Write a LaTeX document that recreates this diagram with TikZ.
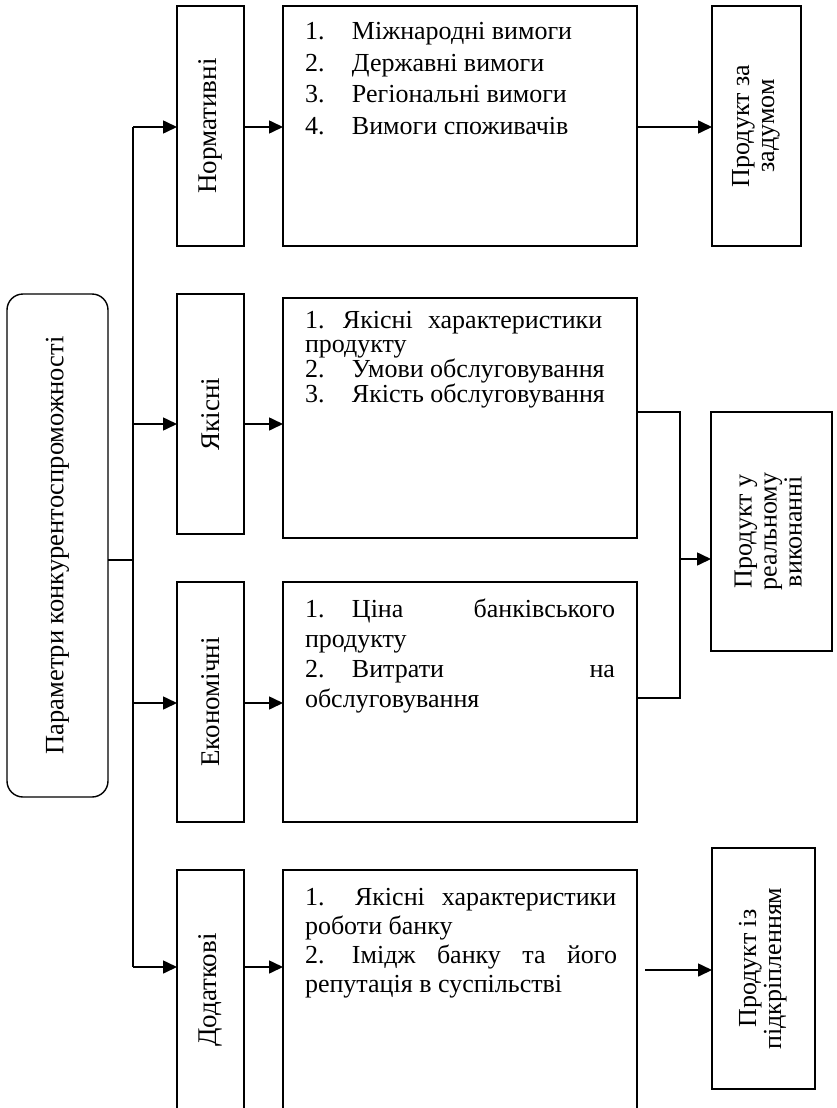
\documentclass[tikz,border=0pt]{standalone}
\usepackage{fontspec}
\setmainfont{Liberation Serif}
\usepackage{graphicx}
\usetikzlibrary{arrows.meta}
\newcommand\numtab[2][47pt]{\makebox[#1][l]{#2}}
\begin{document}
\begin{tikzpicture}[x=1pt,y=-1pt,
  every node/.style={inner sep=0pt, outer sep=0pt},
  frame/.style={draw, line width=1.6pt, rectangle},
  catbox/.style={frame, minimum width=67pt, minimum height=240pt, font=\fontsize{27}{27}\selectfont},
  listbox/.style={frame, minimum width=354pt, minimum height=240pt},
  prodbox/.style={frame, minimum height=240pt, font=\fontsize{26}{25}\selectfont},
  listtext/.style={anchor=base west},
  conn/.style={line width=1.6pt},
  arr/.style={conn, -{Triangle[length=14pt,width=13pt]}}
]
\clip (0,0) rectangle (837,1108);
% main rounded box
\node[draw, line width=1.4pt, rounded corners=16pt, minimum width=101pt, minimum height=503pt,
      font=\fontsize{26.5}{27}\selectfont] (R) at (57.5,545.5) {\rotatebox{90}{Параметри конкурентоспроможності}};
% category boxes
\node[catbox] (N1) at (210.5,126) {\rotatebox{90}{Нормативні}};
\node[catbox] (N2) at (210.5,414) {\rotatebox{90}{Якісні}};
\node[catbox] (N3) at (210.5,702) {\rotatebox{90}{Економічні}};
\node[catbox] (N4) at (210.5,990) {\rotatebox{90}{Додаткові}};
% list boxes
\node[listbox] (T1) at (460,126) {};
\node[listbox] (T2) at (460,418) {};
\node[listbox] (T3) at (460,702) {};
\node[listbox] (T4) at (460,990) {};
\node[listtext] (T1t) at ([shift={(22,34)}]T1.north west) {\parbox[t]{310pt}{\fontsize{26}{31.5}\selectfont
  \numtab{1.}Міжнародні вимоги\\
  \numtab{2.}Державні вимоги\\
  \numtab{3.}Регіональні вимоги\\
  \numtab{4.}Вимоги споживачів}};
\node[listtext] (T2t) at ([shift={(22,30)}]T2.north west) {\parbox[t]{308pt}{\fontsize{26}{24}\selectfont
  \numtab[38pt]{1.}\makebox[85pt][l]{Якісні}характеристики\\
  продукту\\
  \numtab{2.}Умови обслуговування\\
  \numtab{3.}Якість обслуговування}};
\node[listtext] (T3t) at ([shift={(22,35)}]T3.north west) {\parbox[t]{310pt}{\fontsize{26}{30}\selectfont
  \numtab{1.}Ціна\hfill банківського\\
  продукту\\
  \numtab{2.}Витрати\hfill на\\
  обслуговування}};
\node[listtext] (T4t) at ([shift={(22,35)}]T4.north west) {\parbox[t]{312pt}{\fontsize{26}{29.3}\selectfont
  \numtab[50pt]{1.}\makebox[87pt][l]{Якісні}характеристики\\
  роботи банку\\
  \numtab[47pt]{2.}Імідж\hfill банку\hfill та\hfill його\\
  репутація в суспільстві}};
% product boxes
\node[prodbox, minimum width=89pt] (P1) at (756.5,126) {\rotatebox{90}{\begin{tabular}{@{}c@{}}Продукт за\\задумом\end{tabular}}};
\node[prodbox, minimum width=121pt, minimum height=239pt] (P2) at (771.5,531.5) {\rotatebox{90}{\begin{tabular}{@{}c@{}}Продукт у\\реальному\\виконанні\end{tabular}}};
\node[prodbox, minimum width=103pt, minimum height=241pt] (P4) at (763.5,968.5) {\rotatebox{90}{\begin{tabular}{@{}c@{}}Продукт із\\підкріпленням\end{tabular}}};
% spine
\coordinate (s1) at (133,127);
\coordinate (s2) at (133,424);
\coordinate (s3) at (133,703);
\coordinate (s4) at (133,967);
\coordinate (st) at (133,560);
\draw[conn] (s1) -- (s4);
\draw[conn] (R.east |- st) -- (st);
\draw[arr] (s1) -- (N1.west |- s1);
\draw[arr] (s2) -- (N2.west |- s2);
\draw[arr] (s3) -- (N3.west |- s3);
\draw[arr] (s4) -- (N4.west |- s4);
\draw[arr] (N1.east |- s1) -- (T1.west |- s1);
\draw[arr] (N2.east |- s2) -- (T2.west |- s2);
\draw[arr] (N3.east |- s3) -- (T3.west |- s3);
\draw[arr] (N4.east |- s4) -- (T4.west |- s4);
\draw[arr] (T1.east |- s1) -- (P1.west |- s1);
% merge to P2
\coordinate (j1) at (680,412);
\coordinate (j2) at (680,698);
\coordinate (j3) at (680,559);
\draw[conn] (T2.east |- j1) -- (j1) -- (j2) -- (T3.east |- j2);
\draw[arr] (j3) -- (P2.west |- j3);
% T4 to P4
\coordinate (k) at (645,970);
\draw[arr] (k) -- (P4.west |- k);
\end{tikzpicture}
\end{document}
